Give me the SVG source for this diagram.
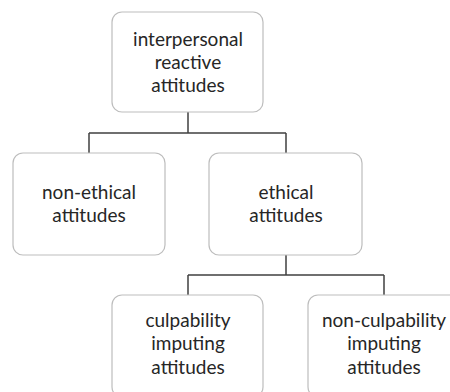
<svg xmlns="http://www.w3.org/2000/svg" width="450" height="392" viewBox="0 0 450 392">
<style>
.box{fill:#fff;stroke:#bdbdbd;stroke-width:1.2}
.t{font-family:Lato,"Open Sans","Liberation Sans",sans-serif;font-size:19px;fill:#262626;text-anchor:middle}
.c{fill:none;stroke:#404040;stroke-width:1.5}
</style>
<rect width="450" height="392" fill="#fff"/>
<g id="connectors">
<path class="c" d="M188 112V133M89 133H286M89 133V153M286 133V153"/>
<path class="c" d="M286 255V275M188 275H384M188 275V295M384 275V295"/>
</g>
<g id="n1"><rect class="box" x="112" y="12" width="151" height="100" rx="10"/>
<text class="t" x="188" y="46">interpersonal</text><text class="t" x="188" y="69">reactive</text><text class="t" x="188" y="92">attitudes</text></g>
<g id="n2"><rect class="box" x="13" y="153" width="152" height="102" rx="10"/>
<text class="t" x="89" y="199">non-ethical</text><text class="t" x="89" y="222">attitudes</text></g>
<g id="n3"><rect class="box" x="209" y="153" width="153" height="102" rx="10"/>
<text class="t" x="286" y="199">ethical</text><text class="t" x="286" y="222">attitudes</text></g>
<g id="n4"><rect class="box" x="112" y="295" width="151" height="102" rx="10"/>
<text class="t" x="188" y="327">culpability</text><text class="t" x="188" y="350">imputing</text><text class="t" x="188" y="374">attitudes</text></g>
<g id="n5"><rect class="box" x="308" y="295" width="152" height="102" rx="10"/>
<text class="t" x="384" y="327">non-culpability</text><text class="t" x="384" y="350">imputing</text><text class="t" x="384" y="374">attitudes</text></g>
</svg>
